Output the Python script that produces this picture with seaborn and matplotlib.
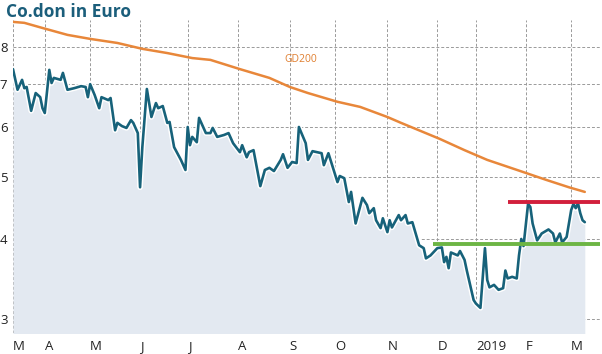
import numpy as np
import pandas as pd
import matplotlib
matplotlib.use("Agg")
import matplotlib.pyplot as plt
import matplotlib.patheffects as pe
from matplotlib.ticker import NullLocator
import seaborn as sns

# trading calendar (Frankfurt), index = trading day number
start, end = "2018-03-12", "2019-03-11"
holidays = ["2018-03-30", "2018-04-02", "2018-05-01", "2018-12-24",
            "2018-12-25", "2018-12-26", "2018-12-31", "2019-01-01"]
tick_labels = ["M", "A", "M", "J", "J", "A", "S", "O", "N", "D", "2019", "F", "M"]

# closing price (trading day number, euro)
price_day = [0, 2, 4, 5, 6, 8, 10, 12, 13, 14, 16, 17, 18, 21, 22, 24, 27, 30, 32, 33,
             34, 36, 38, 39, 42, 43, 45, 46, 48, 50, 52, 53, 55, 56, 57, 59, 61, 63, 64, 66,
             68, 69, 71, 74, 76, 77, 78, 79, 81, 82, 85, 87, 88, 90, 93, 95, 97, 99, 100, 101,
             103, 104, 106, 109, 111, 113, 115, 118, 119, 121, 123, 125, 126, 129, 130, 132, 134, 136, 137, 139,
             143, 144, 146, 148, 149, 151, 154, 156, 157, 159, 160, 162, 163, 165, 166, 167, 170, 171, 173, 174,
             176, 179, 181, 182, 184, 187, 189, 190, 191, 192, 193, 196, 197, 199, 200, 203, 204, 206, 208, 209,
             210, 212, 214, 216, 217, 218, 220, 222, 223, 224, 225, 227, 228, 229, 231, 233, 236, 238, 239, 241,
             242, 244, 246, 247, 248, 249, 250, 251, 252]
price = [7.38, 6.85, 7.10, 6.89, 6.92, 6.35, 6.77, 6.67, 6.41, 6.30, 7.36, 7.02, 7.15, 7.10, 7.28, 6.85, 6.89, 6.94, 6.92, 6.67,
         6.99, 6.72, 6.41, 6.67, 6.60, 6.65, 5.92, 6.08, 6.01, 5.97, 6.14, 6.08, 5.86, 4.82, 5.57, 6.87, 6.21, 6.53, 6.41, 6.46,
         6.08, 6.10, 5.57, 5.32, 5.13, 5.99, 5.61, 5.78, 5.67, 6.19, 5.86, 5.86, 5.97, 5.78, 5.82, 5.86, 5.65, 5.53, 5.47, 5.61,
         5.37, 5.47, 5.51, 4.84, 5.13, 5.17, 5.11, 5.32, 5.43, 5.17, 5.28, 5.26, 5.99, 5.65, 5.32, 5.49, 5.47, 5.45, 5.22, 5.45,
         4.91, 5.02, 4.98, 4.57, 4.74, 4.23, 4.64, 4.52, 4.39, 4.47, 4.28, 4.16, 4.31, 4.10, 4.28, 4.17, 4.36, 4.28, 4.36, 4.23,
         4.25, 3.91, 3.87, 3.73, 3.77, 3.87, 3.88, 3.68, 3.75, 3.60, 3.81, 3.77, 3.83, 3.71, 3.57, 3.21, 3.17, 3.12, 3.87, 3.45,
         3.36, 3.39, 3.33, 3.35, 3.57, 3.47, 3.49, 3.47, 3.77, 4.00, 3.90, 4.54, 4.49, 4.23, 3.98, 4.08, 4.14, 4.08, 3.95, 4.08,
         3.95, 4.03, 4.44, 4.54, 4.47, 4.55, 4.39, 4.28, 4.25]

# 200-day average
gd_day = [0, 5, 13, 24, 34, 46, 57, 68, 79, 87, 100, 113, 122, 130, 143, 153, 165, 171, 188, 199,
          209, 225, 235, 245, 252]
gd200 = [8.75, 8.72, 8.56, 8.35, 8.23, 8.11, 7.94, 7.82, 7.68, 7.63, 7.38, 7.15, 6.92, 6.77, 6.56, 6.44, 6.21, 6.08, 5.74, 5.51,
         5.32, 5.09, 4.95, 4.82, 4.74]

resistance = 4.57   # red line
resistance_from = 218
support = 3.93      # green line
support_from = 185

cal = pd.bdate_range(start, end)
cal = cal[~cal.isin(pd.to_datetime(holidays))]
month_id = cal.year * 12 + cal.month
month_starts = [0] + list(np.where(np.diff(month_id) != 0)[0] + 1)

df_price = pd.DataFrame({"day": price_day, "price": price})
df_gd = pd.DataFrame({"day": gd_day, "gd200": gd200})

sns.set_style("white")
plt.rcParams["font.family"] = ["Open Sans", "DejaVu Sans"]

fig = plt.figure(figsize=(6.02, 3.54), dpi=100)
ax = fig.add_axes([13 / 602, 1 - 333 / 354, 587 / 602, 313 / 354])

teal = "#17627a"
ax.fill_between(df_price["day"], df_price["price"], 2.5, color="#e3e9f1", lw=0, zorder=1)
sns.lineplot(data=df_gd, x="day", y="gd200", ax=ax, color="#e8873a", lw=1.8, zorder=3)
sns.lineplot(data=df_price, x="day", y="price", ax=ax, color=teal, lw=1.9, zorder=4,
             path_effects=[pe.Stroke(linewidth=4.0, foreground="white"), pe.Normal()])

x_end = 258.7
ax.plot([resistance_from, x_end], [resistance, resistance], color="#d21f3c", lw=2.8,
        solid_capstyle="butt", zorder=5, clip_on=False)
ax.plot([support_from, x_end], [support, support], color="#6db544", lw=2.8,
        solid_capstyle="butt", zorder=5, clip_on=False)

ax.text(127, 7.63, "GD200", color="#e07f30", fontsize=7.5, ha="center", va="center")

ax.set_yscale("log")
ax.set_ylim(2.85, 8.81)
ax.set_xlim(0, x_end)
ax.set_yticks([3, 4, 5, 6, 7, 8])
ax.set_yticklabels(["3", "4", "5", "6", "7", "8"])
ax.yaxis.set_minor_locator(NullLocator())
ax.set_xticks(month_starts, tick_labels)
for lab in ax.get_xticklabels():
    lab.set_ha("left")

ax.tick_params(axis="both", length=0, labelsize=9.5, colors="#222222")
ax.tick_params(axis="x", pad=5)
ax.tick_params(axis="y", pad=4)
ax.grid(True, color="#9a9a9a", linestyle=(0, (3, 2)), lw=0.7)
for s in ax.spines.values():
    s.set_visible(False)
ax.set_xlabel(None)
ax.set_ylabel(None)

fig.text(6 / 602, 1 - 3 / 354, "Co.don in Euro", fontsize=12.5, fontweight="bold",
         color="#1b5e7b", ha="left", va="top")

fig.savefig("out.png", dpi=100)
